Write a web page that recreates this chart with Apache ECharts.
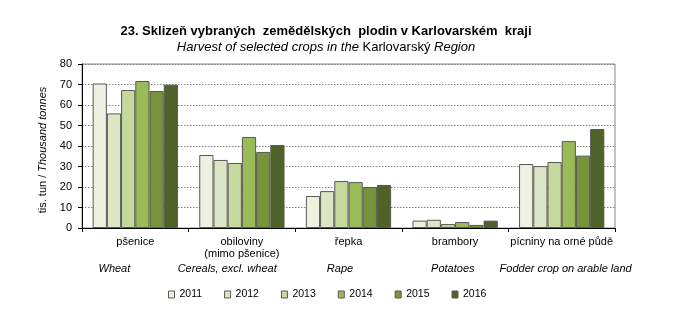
<!DOCTYPE html>
<html><head><meta charset="utf-8">
<script src="https://cdn.jsdelivr.net/npm/echarts@6/dist/echarts.min.js"></script>
<style>html,body{margin:0;padding:0;background:#fff}#c{width:677px;height:329px}</style>
</head><body><div id="c"></div>
<script>
const categoriesCz = ['pšenice', 'obiloviny\n(mimo pšenice)', 'řepka', 'brambory', 'pícniny na orné půdě'];
const categoriesEn = ['Wheat', 'Cereals, excl. wheat', 'Rape', 'Potatoes', 'Fodder crop on arable land'];
const years = ['2011', '2012', '2013', '2014', '2015', '2016'];
const v2011 = [70.5, 35.6, 15.6, 3.6, 31.2];
const v2012 = [55.9, 33.2, 18.0, 4.0, 30.2];
const v2013 = [67.3, 31.7, 22.9, 1.9, 32.2];
const v2014 = [71.7, 44.4, 22.4, 2.9, 42.4];
const v2015 = [66.8, 37.1, 20.0, 1.5, 35.3];
const v2016 = [69.9, 40.5, 21.0, 3.6, 48.3];
const yTicks = [0, 10, 20, 30, 40, 50, 60, 70, 80];

const colors = ['#EEF0E0', '#DCE5C4', '#C5D89E', '#9BBB59', '#77933C', '#4F6228'];
const seriesVals = [v2011, v2012, v2013, v2014, v2015, v2016];
const FONT = 'Liberation Sans, Arial, sans-serif';

const chart = echarts.init(document.getElementById('c'), null, {renderer: 'canvas'});
chart.setOption({
  animation: false,
  color: colors,
  title: {
    text: '23. Sklizeň vybraných  zemědělských  plodin v Karlovarském  kraji',
    subtext: '{i|Harvest of selected crops in the }{n|Karlovarský }{i|Region}',
    left: 326, textAlign: 'center', top: 25, itemGap: 3, padding: 0,
    textStyle: {fontFamily: FONT, fontSize: 13, lineHeight: 13, fontWeight: 'bold', color: '#000'},
    subtextStyle: {fontFamily: FONT, fontSize: 13, lineHeight: 13, color: '#000',
      rich: {i: {fontStyle: 'italic', fontFamily: FONT, fontSize: 13, lineHeight: 13, color: '#000'},
             n: {fontFamily: FONT, fontSize: 13, lineHeight: 13, color: '#000'}}}
  },
  legend: {
    data: years, left: 168, top: 289, itemWidth: 6, itemHeight: 7, itemGap: 22,
    icon: 'rect', padding: 0,
    textStyle: {fontFamily: FONT, fontSize: 10.5, color: '#000'},
    itemStyle: {borderColor: '#595959', borderWidth: 1}
  },
  grid: [
    {left: 82, right: 62, top: 64, bottom: 101, show: true, borderColor: '#868686', borderWidth: 1},
    {left: 58, width: 564, top: 64, bottom: 101}
  ],
  xAxis: [
    {type: 'category', gridIndex: 0, data: categoriesCz,
     axisLine: {lineStyle: {color: '#000', width: 1}},
     axisTick: {show: true, length: 4, lineStyle: {color: '#000'}},
     axisLabel: {fontFamily: FONT, fontSize: 11, color: '#000', margin: 8, lineHeight: 12, interval: 0}},
    {type: 'category', gridIndex: 1, data: categoriesEn,
     axisLine: {show: false}, axisTick: {show: false},
     axisLabel: {fontFamily: FONT, fontSize: 11, fontStyle: 'italic', color: '#000', margin: 35, lineHeight: 12, interval: 0}}
  ],
  yAxis: [
    {type: 'value', gridIndex: 0, min: yTicks[0], max: yTicks[yTicks.length - 1], interval: 10,
     name: '{n|tis. tun / }{i|Thousand tonnes}', nameLocation: 'middle', nameGap: 29, nameRotate: 90,
     nameTextStyle: {padding: [0, 0, 0, -8],
                     rich: {n: {fontFamily: FONT, fontSize: 11, color: '#000'},
                            i: {fontFamily: FONT, fontSize: 11, fontStyle: 'italic', color: '#000'}}},
     axisLine: {show: true, lineStyle: {color: '#000'}},
     axisTick: {show: true, length: 4, lineStyle: {color: '#000'}},
     axisLabel: {fontFamily: FONT, fontSize: 11, color: '#000', margin: 10},
     splitLine: {show: true, lineStyle: {color: '#808080', type: [1.5, 1.5], width: 1}}},
    {type: 'value', gridIndex: 1, show: false}
  ],
  series: years.map((y, i) => ({
    name: y, type: 'bar', xAxisIndex: 0, yAxisIndex: 0, data: seriesVals[i],
    barGap: '0%', barCategoryGap: '20%',
    itemStyle: {color: colors[i], borderColor: '#595959', borderWidth: 1}
  }))
});
</script></body></html>
